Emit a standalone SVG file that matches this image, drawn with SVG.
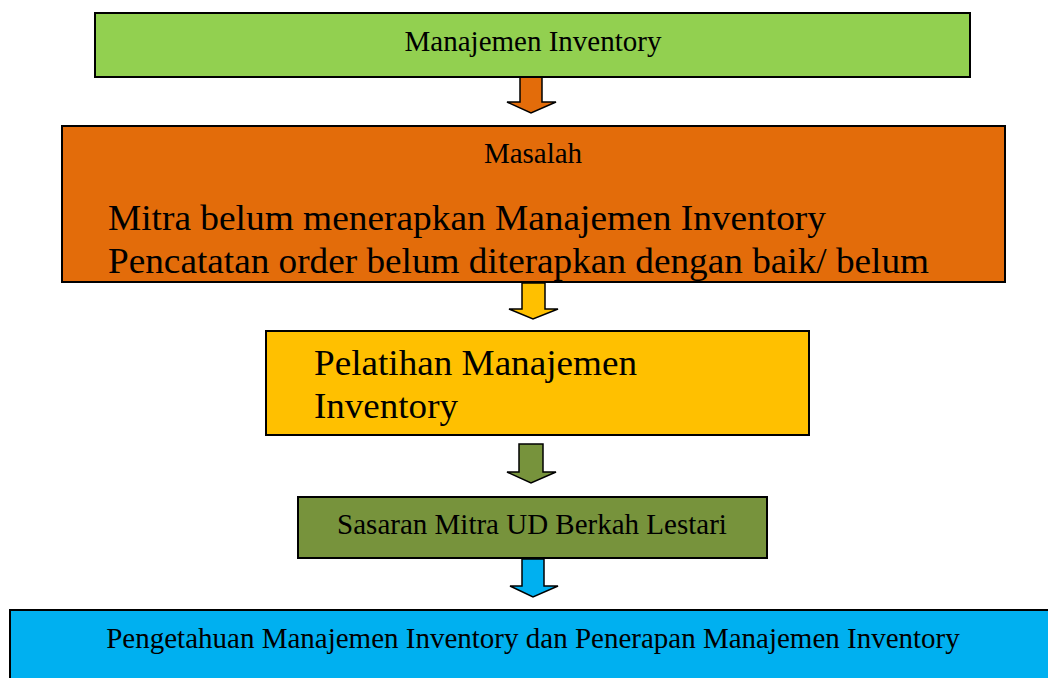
<svg xmlns="http://www.w3.org/2000/svg" width="1048" height="678" viewBox="0 0 1048 678">
<style>
.box{stroke:#000;stroke-width:2}
.arr{stroke:#000;stroke-width:1.5;stroke-linejoin:miter}
text{font-family:"Liberation Serif","Times New Roman",serif;fill:#000}
.s{font-size:29px;text-anchor:middle}
.l{font-size:36px}
</style>
<rect width="1048" height="678" fill="#fff"/>
<g id="connectors">
<polygon class="arr" fill="#E36C0A" points="520,77 542,77 542,102 556,102 531,113 507,102 520,102"/>
<polygon class="arr" fill="#FFC000" points="522,283 545,283 545,309 558,309 533,319 509,309 522,309"/>
<polygon class="arr" fill="#77933C" points="519,444 543,444 543,472 556,472 531,483 507,472 519,472"/>
<polygon class="arr" fill="#00B0F0" points="522,559 544,559 544,586 558,586 533,597 510,586 522,586"/>
</g>
<g id="n1">
<rect class="box" x="95" y="13" width="875" height="64" fill="#92D050"/>
<text class="s" x="533" y="51">Manajemen Inventory</text>
</g>
<g id="n2">
<rect class="box" x="62" y="126" width="943" height="156" fill="#E36C0A"/>
<text class="s" x="533" y="163">Masalah</text>
<text class="l" x="108" y="230" textLength="718" lengthAdjust="spacingAndGlyphs">Mitra belum menerapkan Manajemen Inventory</text>
<text class="l" x="108" y="273" textLength="821" lengthAdjust="spacingAndGlyphs">Pencatatan order belum diterapkan dengan baik/ belum</text>
</g>
<g id="n3">
<rect class="box" x="266" y="331" width="543" height="104" fill="#FFC000"/>
<text class="l" x="314" y="375" textLength="323" lengthAdjust="spacingAndGlyphs">Pelatihan Manajemen</text>
<text class="l" x="314" y="418" textLength="144" lengthAdjust="spacingAndGlyphs">Inventory</text>
</g>
<g id="n4">
<rect class="box" x="298" y="497" width="469" height="61" fill="#77933C"/>
<text class="s" x="532" y="534">Sasaran Mitra UD Berkah Lestari</text>
</g>
<g id="n5">
<rect class="box" x="10" y="610" width="1045" height="75" fill="#00B0F0"/>
<text class="s" x="533" y="648">Pengetahuan Manajemen Inventory dan Penerapan Manajemen Inventory</text>
</g>
</svg>
